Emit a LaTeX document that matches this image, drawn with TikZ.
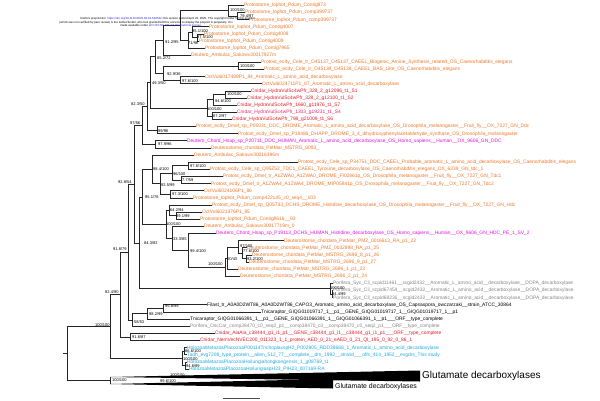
\documentclass[tikz,border=0pt]{standalone}
\usepackage{fontspec}
\setmainfont{Liberation Sans}
\newcommand\lf[1]{\detokenize{#1}}
\newcommand\brr[2]{\draw[br] (#1) |- (#2);}
\definecolor{cor}{RGB}{240,120,40}
\definecolor{cred}{RGB}{228,28,40}
\definecolor{cpink}{RGB}{235,40,110}
\definecolor{cmag}{RGB}{225,20,225}
\definecolor{cgray}{RGB}{135,135,135}
\definecolor{ccyan}{RGB}{30,170,225}
\definecolor{clink}{RGB}{40,40,220}
\begin{document}
\begin{tikzpicture}[x=1pt,y=-1pt,
  br/.style={line width=1pt,draw=black!85},
  leaf/.style={anchor=west,inner sep=0pt,font=\fontsize{4.9}{5}\selectfont},
  supp/.style={anchor=west,inner sep=0pt,font=\fontsize{4}{4}\selectfont},
  hdr/.style={inner sep=0pt,font=\fontsize{2.9}{3}\selectfont}]
\clip (0,0) rectangle (600,400);
\fill[white] (0,0) rectangle (600,400);
% ---------- internal nodes ----------
\coordinate (root) at (67,353.5);
\coordinate (A) at (110,326.5);
\coordinate (T) at (110,380.5);
\coordinate (B) at (120,294.6);
\coordinate (P) at (182,358.4);
\coordinate (C) at (128,252.2);
\coordinate (K) at (130,337.05);
\coordinate (D) at (134,184.2);
\coordinate (L) at (132,320.1);
\coordinate (E) at (142,125.4);
\coordinate (F) at (139,243);
\coordinate (N823) at (147,106.35);
\coordinate (N979) at (155,144.5);
\coordinate (N493) at (150,82.4);
\coordinate (N99) at (157,130.3);
\coordinate (N852) at (155,56.9);
\coordinate (H1) at (207,108);
\coordinate (N912) at (163,40.5);
\coordinate (N929) at (163,73.2);
\coordinate (P1) at (180,25.55);
\coordinate (N973) at (228,10.85);
\coordinate (N794) at (237,16.2);
\coordinate (N71) at (188,40.26);
\coordinate (N951) at (192,32.24);
\coordinate (N975) at (197,37.59);
\coordinate (N100c) at (238,66.1);
\coordinate (N976) at (180,80.37);
\coordinate (H2) at (213,99.97);
\coordinate (H3) at (212,116.02);
\coordinate (H4) at (225,94.63);
\coordinate (G) at (142,197);
\coordinate (PF1) at (330,288.9);
\coordinate (PF2) at (332,294.27);
\coordinate (G1) at (152,169.5);
\coordinate (G7) at (166,224.5);
\coordinate (G2) at (160,183.75);
\coordinate (G3) at (172,173.06);
\coordinate (G4) at (170,194.45);
\coordinate (G5) at (188,165.93);
\coordinate (G6) at (181,180.19);
\coordinate (G8) at (169,210.5);
\coordinate (G10) at (176,215.84);
\coordinate (G9) at (172,238.5);
\coordinate (G11) at (188,250.5);
\coordinate (NP) at (225,267.3);
\coordinate (N20) at (227,258.2);
\coordinate (N97) at (238,247);
\coordinate (N776) at (242,253.3);
\coordinate (N932) at (246,258.6);
\coordinate (M) at (147,313.9);
\coordinate (N) at (163,308.5);
\coordinate (Q) at (184,351.3);
\coordinate (R) at (185,365.6);
% ---------- leaf ends ----------
\coordinate (l1) at (244,5.5);
\coordinate (l2) at (245,12.63);
\coordinate (l3) at (249,19.76);
\coordinate (l4) at (209,26.89);
\coordinate (l5) at (204,34.02);
\coordinate (l6) at (199,41.15);
\coordinate (l7) at (205,48.28);
\coordinate (l8) at (191,55.41);
\coordinate (l9) at (261,62.54);
\coordinate (l10) at (264,69.67);
\coordinate (l11) at (205,76.8);
\coordinate (l12) at (262,83.93);
\coordinate (l13) at (251,91.06);
\coordinate (l14) at (247,98.19);
\coordinate (l15) at (237,105.32);
\coordinate (l16) at (237,112.45);
\coordinate (l17) at (232,119.58);
\coordinate (l18) at (196,126.71);
\coordinate (l19) at (238,133.84);
\coordinate (l20) at (187,140.97);
\coordinate (l21) at (211,148.1);
\coordinate (l22) at (194,155.23);
\coordinate (l23) at (298,162.36);
\coordinate (l24) at (210,169.49);
\coordinate (l25) at (223,176.62);
\coordinate (l26) at (211,183.75);
\coordinate (l27) at (204,190.88);
\coordinate (l28) at (193,198.01);
\coordinate (l29) at (212,205.14);
\coordinate (l30) at (202,212.27);
\coordinate (l31) at (200,219.4);
\coordinate (l32) at (204,226.53);
\coordinate (l33) at (216,233.66);
\coordinate (l34) at (284,240.79);
\coordinate (l35) at (247,247.92);
\coordinate (l36) at (252,255.05);
\coordinate (l37) at (249,262.18);
\coordinate (l38) at (238,269.31);
\coordinate (l39) at (240,276.44);
\coordinate (l40) at (333,283.57);
\coordinate (l41) at (333,290.7);
\coordinate (l42) at (333,297.83);
\coordinate (l43) at (207,304.96);
\coordinate (l44) at (261,312.09);
\coordinate (l45) at (190,319.22);
\coordinate (l46) at (190,326.35);
\coordinate (l47) at (215,333.48);
\coordinate (l48) at (200,340.61);
\coordinate (l49) at (187,347.74);
\coordinate (l50) at (187,354.87);
\coordinate (l51) at (187,362);
\coordinate (l52) at (189,369.13);
% ---------- branches ----------
\draw[br] (63,353.5) -- (root);
\brr{root}{A}\brr{root}{T}
\draw[br] (110,377) -- (110,384);
\brr{A}{B}\brr{A}{P}
\brr{B}{C}\brr{B}{K}
\brr{C}{D}\brr{C}{L}
\brr{D}{E}\brr{D}{F}
\brr{E}{N823}\brr{E}{N979}
\brr{N823}{N493}\brr{N823}{N99}
\brr{N493}{N852}\brr{N493}{H1}
\brr{N852}{N912}\brr{N852}{N929}
\brr{N912}{P1}\brr{N912}{l8}
\brr{P1}{N973}\brr{P1}{N71}
\brr{N973}{l1}\brr{N973}{N794}
\brr{N794}{l2}\brr{N794}{l3}
\brr{N71}{N951}\brr{N71}{l7}
\brr{N951}{l4}\brr{N951}{N975}
\brr{N975}{l5}\brr{N975}{l6}
\brr{N929}{N100c}\brr{N929}{N976}
\brr{N100c}{l9}\brr{N100c}{l10}
\brr{N976}{l11}\brr{N976}{l12}
\brr{H1}{H2}\brr{H1}{H3}
\brr{H2}{H4}\brr{H2}{l15}
\brr{H4}{l13}\brr{H4}{l14}
\brr{H3}{l16}\brr{H3}{l17}
\brr{N99}{l18}\brr{N99}{l19}
\brr{N979}{l20}\brr{N979}{l21}
\brr{F}{G}\brr{F}{PF1}
\brr{PF1}{l40}\brr{PF1}{PF2}
\brr{PF2}{l41}\brr{PF2}{l42}
\brr{G}{G1}\brr{G}{G7}
\brr{G1}{l22}\brr{G1}{G2}
\brr{G2}{G3}\brr{G2}{G4}
\brr{G3}{G5}\brr{G3}{G6}
\brr{G5}{l23}\brr{G5}{l24}
\brr{G6}{l25}\brr{G6}{l26}
\brr{G4}{l27}\brr{G4}{l28}
\brr{G7}{G8}\brr{G7}{G9}
\brr{G8}{l29}\brr{G8}{G10}
\brr{G10}{l30}\brr{G10}{l31}
\brr{G9}{l32}\brr{G9}{G11}
\brr{G11}{l33}\brr{G11}{NP}
\brr{NP}{N20}\brr{NP}{l39}
\brr{N20}{N97}\brr{N20}{l38}
\brr{N97}{l34}\brr{N97}{N776}
\brr{N776}{l35}\brr{N776}{N932}
\brr{N932}{l36}\brr{N932}{l37}
\brr{L}{M}\brr{L}{l46}
\brr{M}{N}\brr{M}{l45}
\brr{N}{l43}\brr{N}{l44}
\brr{K}{l47}\brr{K}{l48}
\brr{P}{Q}\brr{P}{R}
\brr{Q}{l49}\brr{Q}{l50}
\brr{R}{l51}\brr{R}{l52}
% collapsed clades
\fill[black] (110,377) -- (420,370.5) -- (420,381.5) -- cycle;
\fill[black] (110,384) -- (333,379) -- (333,388.5) -- cycle;
\node[anchor=west,inner sep=0pt,font=\fontsize{10}{10}\selectfont] (glu1) at (422,376) {Glutamate decarboxylases};
\node[anchor=west,inner sep=0pt,font=\fontsize{6.9}{7}\selectfont] (glu2) at (335,387) {Glutamate decarboxylases};
% scale bar
\draw[line width=0.6pt,black!70] (223,398.5) -- (260,398.5);
% ---------- leaf labels ----------
\node[leaf,text=cor] (t1) at (l1) {\lf{Protostome_lophot_Pdum_Contig973}};
\node[leaf,text=cor] (t2) at (l2) {\lf{Protostome_lophot_Pdum_comp399737}};
\node[leaf,text=cor] (t3) at (l3) {\lf{Protostome_lophot_Pdum_comp399737}};
\node[leaf,text=cor] (t4) at (l4) {\lf{Protostome_lophot_Pdum_Contig4007}};
\node[leaf,text=cor] (t5) at (l5) {\lf{Protostome_lophot_Pdum_Contig4008}};
\node[leaf,text=cor] (t6) at (l6) {\lf{Protostome_lophot_Pdum_Contig4009}};
\node[leaf,text=cor] (t7) at (l7) {\lf{Protostome_lophot_Pdum_Contig7965}};
\node[leaf,text=cor] (t8) at (l8) {\lf{Deutero_Ambulac_Sakowv30017927m}};
\node[leaf,text=cor] (t9) at (l9) {\lf{Protost_ecdy_Cele_tr_O45137_O45137_CAEEL_Biogenic_Amine_Synthesis_related_OS_Caenorhabditis_elegans}};
\node[leaf,text=cor] (t10) at (l10) {\lf{Protost_ecdy_Cele_tr_O45138_O45138_CAEEL_BAS_Like_OS_Caenorhabditis_elegans}};
\node[leaf,text=cor] (t11) at (l11) {\lf{OctVul6017489P1_84_Aromatic_L_amino_acid_decarboxylase}};
\node[leaf,text=cor] (t12) at (l12) {\lf{OctVul6024711P1_87_Aromatic_L_amino_acid_decarboxylase}};
\node[leaf,text=cred] (t13) at (l13) {\lf{Cnidar_HydraVulSc4wPfr_328_2_g12096_t1_S1}};
\node[leaf,text=cred] (t14) at (l14) {\lf{Cnidar_HydraVulSc4wPfr_328_2_g12100_t1_S2}};
\node[leaf,text=cred] (t15) at (l15) {\lf{Cnidar_HydraVulSc4wPfr_1660_g11976_t1_S7}};
\node[leaf,text=cpink] (t16) at (l16) {\lf{Cnidar_HydraVulSc4wPfr_1303_g19231_t1_S4}};
\node[leaf,text=cred] (t17) at (l17) {\lf{Cnidar_HydraVulSc4wPfr_798_g21009_t1_S6}};
\node[leaf,text=cor] (t18) at (l18) {\lf{Protost_ecdy_Dmel_sp_P05031_DDC_DROME_Aromatic_L_amino_acid_decarboxylase_OS_Drosophila_melanogaster__Fruit_fly__OX_7227_GN_Ddc}};
\node[leaf,text=cor] (t19) at (l19) {\lf{Protost_ecdy_Dmel_sp_P18486_DHAPP_DROME_3_4_dihydroxyphenylacetaldehyde_synthase_OS_Drosophila_melanogaster}};
\node[leaf,text=cmag] (t20) at (l20) {\lf{Deutero_Chord_Hsap_sp_P20711_DDC_HUMAN_Aromatic_L_amino_acid_decarboxylase_OS_Homo_sapiens__Human__OX_9606_GN_DDC}};
\node[leaf,text=cor] (t21) at (l21) {\lf{Deuterostome_chordata_PetMar_MSTRG_8093_}};
\node[leaf,text=cor] (t22) at (l22) {\lf{Deutero_Ambulac_Sakowv30016396m}};
\node[leaf,text=cor] (t23) at (l23) {\lf{Protost_ecdy_Cele_sp_P34751_DDC_CAEEL_Probable_aromatic_L_amino_acid_decarboxylase_OS_Caenorhabditis_elegans}};
\node[leaf,text=cor] (t24) at (l24) {\lf{Protost_ecdy_Cele_sp_Q95Z52_TDC1_CAEEL_Tyrosine_decarboxylase_OS_Caenorhabditis_elegans_OX_6239_GN_tdc_1}};
\node[leaf,text=cor] (t25) at (l25) {\lf{Protost_ecdy_Dmel_tr_A1ZWA0_A1ZWA0_DROME_FI02861p_OS_Drosophila_melanogaster__Fruit_fly__OX_7227_GN_Tdc1}};
\node[leaf,text=cor] (t26) at (l26) {\lf{Protost_ecdy_Dmel_tr_A1ZWA4_A1ZWA4_DROME_MIP05841p_OS_Drosophila_melanogaster__Fruit_fly__OX_7227_GN_Tdc2}};
\node[leaf,text=cor] (t27) at (l27) {\lf{OctVul6024106P1_86}};
\node[leaf,text=cor] (t28) at (l28) {\lf{Protostome_lophot_Pdum_comp422145_c0_seq4__103}};
\node[leaf,text=cor] (t29) at (l29) {\lf{Protost_ecdy_Dmel_sp_Q05733_DCHS_DROME_Histidine_decarboxylase_OS_Drosophila_melanogaster__Fruit_fly__OX_7227_GN_Hdc}};
\node[leaf,text=cor] (t30) at (l30) {\lf{OctVul6021376P1_85}};
\node[leaf,text=cor] (t31) at (l31) {\lf{Protostome_lophot_Pdum_Contig8616__93}};
\node[leaf,text=cor] (t32) at (l32) {\lf{Deutero_Ambulac_Sakowv30017719m_0}};
\node[leaf,text=cmag] (t33) at (l33) {\lf{Deutero_Chord_Hsap_sp_P19113_DCHS_HUMAN_Histidine_decarboxylase_OS_Homo_sapiens__Human__OX_9606_GN_HDC_PE_1_SV_2}};
\node[leaf,text=cor] (t34) at (l34) {\lf{Deuterostome_chordata_PetMar_PMZ_0016613_RA_p1_22}};
\node[leaf,text=cor] (t35) at (l35) {\lf{Deuterostome_chordata_PetMar_PMZ_0032898_RA_p1_25}};
\node[leaf,text=cor] (t36) at (l36) {\lf{Deuterostome_chordata_PetMar_MSTRG_2696_8_p1_26}};
\node[leaf,text=cor] (t37) at (l37) {\lf{Deuterostome_chordata_PetMar_MSTRG_2696_9_p1_27}};
\node[leaf,text=cor] (t38) at (l38) {\lf{Deuterostome_chordata_PetMar_MSTRG_2696_1_p1_23}};
\node[leaf,text=cor] (t39) at (l39) {\lf{Deuterostome_chordata_PetMar_MSTRG_2696_2_p1_24}};
\node[leaf,text=cgray] (t40) at (l40) {\lf{Porifera_Syc_Cil_scpid11461__scgid2432__Aromatic_L_amino_acid__decarboxylase__DOPA_decarboxylase}};
\node[leaf,text=cgray] (t41) at (l41) {\lf{Porifera_Syc_Cil_scpid67454__scgid2432__Aromatic_L_amino_acid__decarboxylase__DOPA_decarboxylase}};
\node[leaf,text=cgray] (t42) at (l42) {\lf{Porifera_Syc_Cil_scpid68236__scgid2432__Aromatic_L_amino_acid__decarboxylase__DOPA_decarboxylase}};
\node[leaf,text=black] (t43) at (l43) {\lf{Filast_tr_A0A0D2WT86_A0A0D2WT86_CAPO3_Aromatic_amino_acid_decarboxylase_OS_Capsaspora_owczarzaki__strain_ATCC_30864}};
\node[leaf,text=black] (t44) at (l44) {\lf{Tnicaraptor_GIQG01019717_1__p1__GENE_GIQG01019717_1__GIQG01019717_1__p1}};
\node[leaf,text=black] (t45) at (l45) {\lf{Tnicaraptor_GIQG01066391_1__p1__GENE_GIQG01066391_1__GIQG01066391_1__p1___ORF__type_complete}};
\node[leaf,text=cgray] (t46) at (l46) {\lf{Porifera_OscCar_comp38470_c0_seq2_p1__comp38470_c0__comp38470_c0_seq2_p1___ORF__type_complete}};
\node[leaf,text=cred] (t47) at (l47) {\lf{Cnidar_AlaAla_c38444_g1_i1_p1__GENE_c38444_g1_i1__c38444_g1_i1_p1___ORF__type_complete}};
\node[leaf,text=cred] (t48) at (l48) {\lf{Cnidar_NemVecNVEC200_011323_1_1_protein_AED_0_21_eAED_0_21_QI_195_0_92_0_86_1}};
\node[leaf,text=ccyan] (t49) at (l49) {\lf{HolozoaMetazoaPlacozoaP00114TrichoplaxspH2_P002905_RDD38668_1_Aromatic_L_amino_acid_decarboxylase}};
\node[leaf,text=ccyan] (t50) at (l50) {\lf{Tadh_evg7208_type_protein__alien_512_77__complete__dm_1992__strand___offs_414_1952__evgdrs_This study}};
\node[leaf,text=ccyan] (t51) at (l51) {\lf{HolozoaMetazoaPlacozoaHoilungiahongkongensis_1_g08768_t1}};
\node[leaf,text=ccyan] (t52) at (l52) {\lf{HolozoaMetazoaPlacozoaHoilungiaspH23_PIH23_007169-RA}};
% ---------- support values ----------
\node[supp] (s1) at (230,10) {100/100};
\node[supp] (s2) at (240,16.5) {79.4/97};
\node[supp] (s3) at (192,31) {95.1/100};
\node[supp] (s4) at (197,37.5) {97.5/100};
\node[supp] (s5) at (188,43.5) {71/98};
\node[supp] (s6) at (165,42) {91.2/95};
\node[supp] (s7) at (157,58) {85.2/72};
\node[supp] (s8) at (240,66.5) {100/100};
\node[supp] (s9) at (167,74) {92.9/36};
\node[supp] (s10) at (182,81) {97.6/100};
\node[supp] (s11) at (152,83) {49.3/50};
\node[supp] (s12) at (227,94.5) {100/100};
\node[supp] (s13) at (215,101.5) {94.6/100};
\node[supp] (s14) at (207,109) {100/100};
\node[supp] (s15) at (213,116.5) {87.2/97};
\node[supp] (s16) at (131,104) {82.3/50};
\node[supp] (s17) at (130,123) {97/56};
\node[supp] (s18) at (158,131) {99/98};
\node[supp] (s19) at (158,144.5) {97.9/96};
\node[supp] (s20) at (118,182) {92.8/54};
\node[supp] (s21) at (153,169) {98.4/100};
\node[supp] (s22) at (190,166) {97.6/100};
\node[supp] (s23) at (173,174) {96/100};
\node[supp] (s24) at (182,180.5) {7.7/59};
\node[supp] (s25) at (161,185) {92.5/99};
\node[supp] (s26) at (172,194) {97.3/100};
\node[supp] (s27) at (145,197.5) {95.1/76};
\node[supp] (s28) at (170,210) {64.2/94};
\node[supp] (s29) at (176,216.5) {89.1/99};
\node[supp] (s30) at (166,224) {100/100};
\node[supp] (s31) at (173,239.5) {33.3/85};
\node[supp] (s32) at (240,246) {97/100};
\node[supp] (s33) at (190,251) {99.4/100};
\node[supp] (s34) at (243,251) {77.6/100};
\node[supp] (s35) at (247,259) {93.2/100};
\node[supp] (s36) at (227,259) {20/43};
\node[supp] (s37) at (208,264) {100/100};
\node[supp] (s38) at (144,243) {84.3/82};
\node[supp] (s39) at (113,249.5) {91.8/79};
\node[supp] (s40) at (330,288) {100/100};
\node[supp] (s41) at (332,294) {94.4/99};
\node[supp] (s42) at (105,292) {82.4/90};
\node[supp] (s43) at (165,306) {95.8/99};
\node[supp] (s44) at (149,314) {98.2/99};
\node[supp] (s45) at (134,322) {58/53};
\node[supp] (s46) at (95,325) {100/100};
\node[supp] (s47) at (132,337.5) {91.6/87};
\node[supp] (s48) at (185,351.5) {86.6/100};
\node[supp] (s49) at (183,359) {100/100};
\node[supp] (s50) at (186,366) {94.6/99};
\node[supp] (s51) at (170,375) {100/100};
\node[supp] (s52) at (112,380.5) {100/100};
\node[supp] (s53) at (160,381.5) {99.6/100};
% ---------- preprint header ----------
\node[hdr,anchor=east] (h1) at (255,19) {bioRxiv preprint doi: \textcolor{clink}{https://doi.org/10.1101/2025.04.18.649542}; this version posted April 22, 2025. The copyright holder for this preprint};
\node[hdr,anchor=east] (h2) at (233,22.3) {(which was not certified by peer review) is the author/funder, who has granted bioRxiv a license to display the preprint in perpetuity. It is};
\node[hdr] (h3) at (161,25.3) {made available under \textcolor{clink}{aCC-BY-NC-ND 4.0 International license}.};
% blank left margin (cuts the header)
\fill[white] (0,0) rectangle (58,400);
\end{tikzpicture}
\end{document}
